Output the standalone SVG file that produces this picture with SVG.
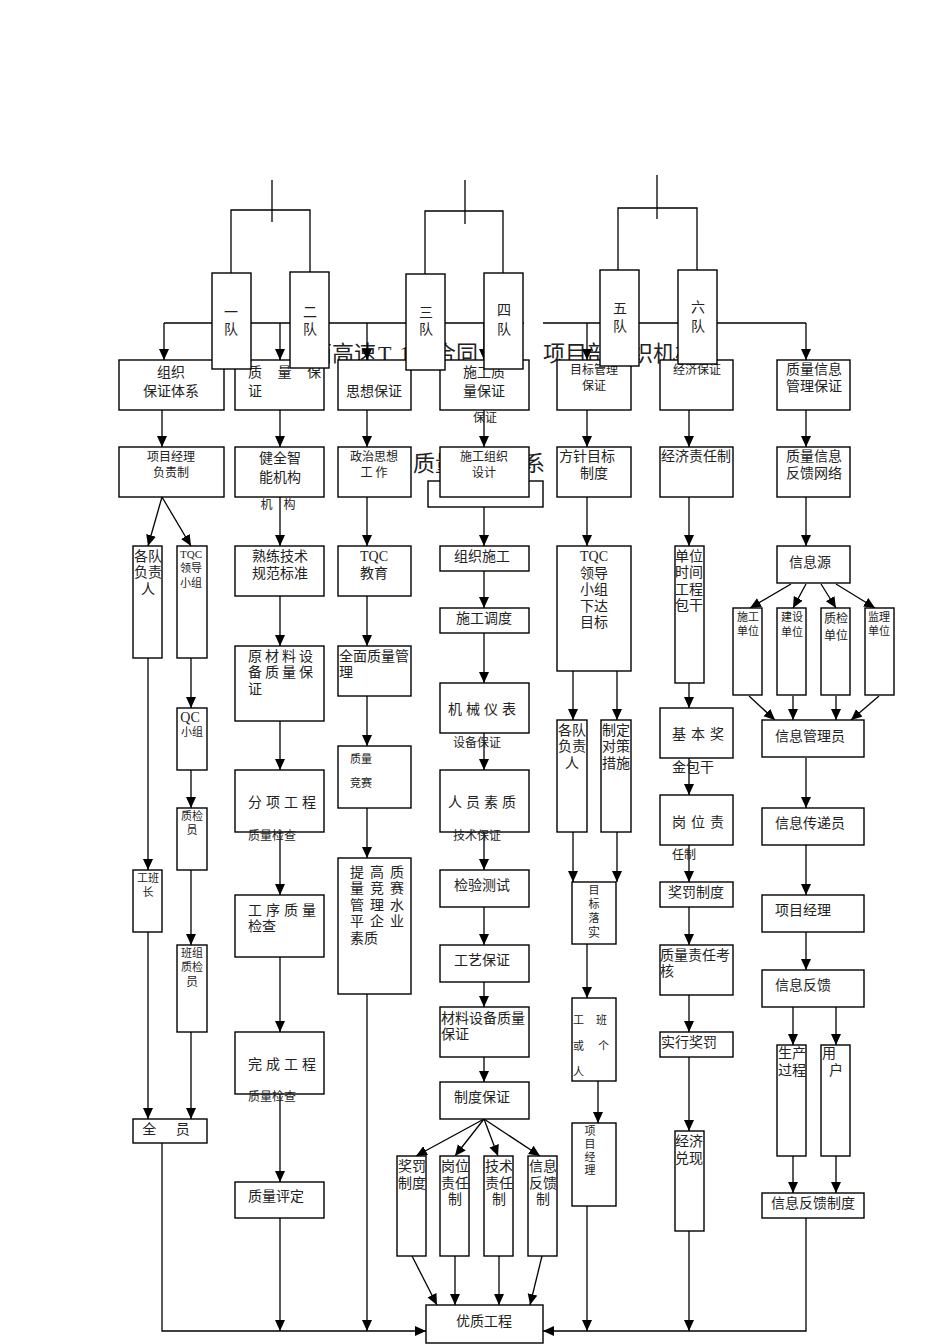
<svg xmlns="http://www.w3.org/2000/svg" width="950" height="1344" viewBox="0 0 950 1344">
<defs>
<marker id="ar" markerUnits="userSpaceOnUse" markerWidth="12" markerHeight="12" refX="11" refY="5" orient="auto"><path d="M0,0 L11,5 L0,10 z" fill="#000"/></marker>
<style>
rect{fill:#fff;stroke:#000;stroke-width:1.4}
line,polyline{stroke:#000;stroke-width:1.3;fill:none}
.a{marker-end:url(#ar)}
text{font-family:"Liberation Serif","Noto Sans CJK SC",serif;fill:#222;font-size:14px}
.c{text-anchor:middle}
.s{font-size:12px}
.xs{font-size:11px}
.big{font-size:22px}
</style>
</defs>
<rect width="950" height="1344" style="stroke:none"/>
<g id="title">
<text class="big" x="310" y="361">西高速</text><text class="big" x="378" y="361" letter-spacing="8">T1</text><text class="big" x="423" y="361">2合同</text><text class="big" x="543" y="361">项目部组织机构</text>
<text class="big" x="413" y="471">质量保证体系</text>
</g>
<g id="connectors">
<line x1="272" y1="180" x2="272" y2="222"/><polyline points="231,273 231,210 310,210 310,272"/>
<line x1="465" y1="180" x2="465" y2="224"/><polyline points="425,274 425,211 503,211 503,273"/>
<line x1="657" y1="175" x2="657" y2="219"/><polyline points="618,270 618,208 697,208 697,270"/>
<line x1="164" y1="323" x2="524" y2="323"/><line x1="543" y1="323" x2="806" y2="323"/>
<line class="a" x1="164" y1="323" x2="164" y2="360"/><line class="a" x1="280" y1="323" x2="280" y2="360"/><line class="a" x1="367" y1="323" x2="367" y2="360"/><line class="a" x1="484" y1="323" x2="484" y2="360"/><line class="a" x1="587" y1="323" x2="587" y2="360"/><line class="a" x1="697" y1="323" x2="697" y2="360"/><line class="a" x1="806" y1="323" x2="806" y2="360"/>
<line class="a" x1="162" y1="410" x2="162" y2="447"/><line class="a" x1="280" y1="410" x2="280" y2="447"/><line class="a" x1="367" y1="410" x2="367" y2="447"/><line class="a" x1="484" y1="410" x2="484" y2="447"/><line class="a" x1="587" y1="410" x2="587" y2="447"/><line class="a" x1="689" y1="410" x2="689" y2="447"/><line class="a" x1="806" y1="410" x2="806" y2="447"/>
<line class="a" x1="162" y1="497" x2="148" y2="546"/><line class="a" x1="162" y1="497" x2="191" y2="546"/>
<line class="a" x1="148" y1="658" x2="148" y2="870"/><line class="a" x1="191" y1="658" x2="191" y2="708"/><line class="a" x1="191" y1="770" x2="191" y2="808"/><line class="a" x1="191" y1="870" x2="191" y2="945"/>
<line class="a" x1="148" y1="932" x2="148" y2="1119"/><line class="a" x1="191" y1="1032" x2="191" y2="1119"/>
<polyline class="a" points="162,1143 162,1331 426,1331"/>
<line class="a" x1="280" y1="497" x2="280" y2="546"/><line class="a" x1="280" y1="596" x2="280" y2="646"/><line class="a" x1="280" y1="721" x2="280" y2="770"/><line class="a" x1="280" y1="832" x2="280" y2="895"/><line class="a" x1="280" y1="957" x2="280" y2="1032"/><line class="a" x1="280" y1="1094" x2="280" y2="1182"/><line class="a" x1="280" y1="1218" x2="280" y2="1331"/>
<line class="a" x1="367" y1="497" x2="367" y2="546"/><line class="a" x1="367" y1="596" x2="367" y2="646"/><line class="a" x1="367" y1="696" x2="367" y2="746"/><line class="a" x1="367" y1="808" x2="367" y2="858"/><line class="a" x1="367" y1="994" x2="367" y2="1331"/>
<line class="a" x1="484" y1="497" x2="484" y2="546"/><line class="a" x1="484" y1="571" x2="484" y2="608"/><line class="a" x1="484" y1="633" x2="484" y2="683"/><line class="a" x1="484" y1="733" x2="484" y2="770"/><line class="a" x1="484" y1="832" x2="484" y2="870"/><line class="a" x1="484" y1="907" x2="484" y2="945"/><line class="a" x1="484" y1="982" x2="484" y2="1007"/><line class="a" x1="484" y1="1057" x2="484" y2="1082"/>
<line class="a" x1="484" y1="1119" x2="416" y2="1156"/><line class="a" x1="484" y1="1119" x2="455" y2="1156"/><line class="a" x1="484" y1="1119" x2="498" y2="1156"/><line class="a" x1="484" y1="1119" x2="540" y2="1156"/>
<line class="a" x1="412" y1="1256" x2="437" y2="1305"/><line class="a" x1="455" y1="1256" x2="455" y2="1305"/><line class="a" x1="499" y1="1256" x2="499" y2="1305"/><line class="a" x1="542" y1="1256" x2="530" y2="1305"/>
<line class="a" x1="587" y1="497" x2="587" y2="546"/><line class="a" x1="573" y1="671" x2="573" y2="720"/><line class="a" x1="617" y1="671" x2="617" y2="720"/>
<line class="a" x1="573" y1="832" x2="573" y2="882"/><line class="a" x1="617" y1="832" x2="617" y2="882"/>
<line class="a" x1="587" y1="944" x2="587" y2="998"/><line class="a" x1="598" y1="1081" x2="598" y2="1123"/><line class="a" x1="587" y1="1206" x2="587" y2="1331"/>
<line class="a" x1="689" y1="497" x2="689" y2="546"/><line class="a" x1="689" y1="683" x2="689" y2="708"/><line class="a" x1="689" y1="758" x2="689" y2="795"/><line class="a" x1="689" y1="845" x2="689" y2="882"/><line class="a" x1="689" y1="907" x2="689" y2="945"/><line class="a" x1="689" y1="995" x2="689" y2="1032"/><line class="a" x1="689" y1="1057" x2="689" y2="1131"/><line class="a" x1="689" y1="1231" x2="689" y2="1331"/>
<line class="a" x1="806" y1="497" x2="806" y2="546"/>
<line class="a" x1="791" y1="584" x2="750" y2="608"/><line class="a" x1="806" y1="584" x2="793" y2="608"/><line class="a" x1="821" y1="584" x2="836" y2="608"/><line class="a" x1="836" y1="584" x2="875" y2="608"/>
<line class="a" x1="749" y1="696" x2="775" y2="720"/><line class="a" x1="793" y1="696" x2="793" y2="720"/><line class="a" x1="836" y1="696" x2="836" y2="720"/><line class="a" x1="879" y1="696" x2="851" y2="720"/>
<line class="a" x1="806" y1="758" x2="806" y2="808"/><line class="a" x1="806" y1="845" x2="806" y2="895"/><line class="a" x1="806" y1="932" x2="806" y2="970"/>
<line class="a" x1="793" y1="1007" x2="793" y2="1045"/><line class="a" x1="836" y1="1007" x2="836" y2="1045"/>
<line class="a" x1="793" y1="1156" x2="793" y2="1193"/><line class="a" x1="836" y1="1156" x2="836" y2="1193"/>
<polyline class="a" points="806,1218 806,1331 543,1331"/>
</g>
<g id="n-zz"><rect x="119" y="360" width="105" height="50"/><text class="c" x="171" y="377">组织</text><text class="c" x="171" y="396">保证体系</text></g>
<g id="n-zl"><rect x="235" y="360" width="89" height="50"/><text x="248" y="377" letter-spacing="6">质 量 保</text><text x="248" y="396">证</text></g>
<g id="n-sx"><rect x="338" y="360" width="73" height="50"/><text class="c" x="374" y="396">思想保证</text></g>
<g id="n-sg"><rect x="440" y="360" width="89" height="50"/><text class="c" x="484" y="377">施工质</text><text class="c" x="484" y="396">量保证</text></g>
<text class="c s" x="485" y="422">保证</text>
<g id="n-mb"><rect x="557" y="360" width="74" height="50"/><text class="c s" x="594" y="374">目标管理</text><text class="c s" x="594" y="390">保证</text></g>
<g id="n-jj"><rect x="660" y="360" width="73" height="50"/><text class="c s" x="697" y="374">经济保证</text></g>
<g id="n-xx"><rect x="777" y="360" width="73" height="50"/><text class="c" x="814" y="374">质量信息</text><text class="c" x="814" y="391">管理保证</text></g>
<g id="t1"><rect x="212" y="273" width="39" height="96"/><text class="c" x="231" y="317">一</text><text class="c" x="231" y="334">队</text></g>
<g id="t2"><rect x="290" y="272" width="39" height="96"/><text class="c" x="310" y="317">二</text><text class="c" x="310" y="334">队</text></g>
<g id="t3"><rect x="406" y="274" width="39" height="96"/><text class="c" x="426" y="317">三</text><text class="c" x="426" y="334">队</text></g>
<g id="t4"><rect x="484" y="273" width="39" height="96"/><text class="c" x="504" y="315">四</text><text class="c" x="504" y="334">队</text></g>
<g id="t5"><rect x="600" y="270" width="39" height="96"/><text class="c" x="620" y="313">五</text><text class="c" x="620" y="331">队</text></g>
<g id="t6"><rect x="678" y="270" width="39" height="94"/><text class="c" x="698" y="312">六</text><text class="c" x="698" y="331">队</text></g>
<g id="n-xmjl"><rect x="119" y="447" width="105" height="50"/><text class="c s" x="171" y="461">项目经理</text><text class="c s" x="171" y="477">负责制</text></g>
<g id="n-jq"><rect x="235" y="447" width="89" height="50"/><text class="c" x="280" y="463">健全智</text><text class="c" x="280" y="482">能机构</text></g>
<text class="c s" x="280" y="509" letter-spacing="4">机 构</text>
<g id="n-zz2"><rect x="338" y="447" width="73" height="50"/><text class="c s" x="374" y="461">政治思想</text><text class="c s" x="374" y="477">工 作</text></g>
<rect x="428" y="481" width="115" height="26"/>
<g id="n-sgzz"><rect x="440" y="447" width="89" height="50"/><text class="c s" x="484" y="461">施工组织</text><text class="c s" x="484" y="477">设计</text></g>
<g id="n-fz"><rect x="557" y="447" width="74" height="50"/><text class="c" x="587" y="461">方针目标</text><text class="c" x="594" y="478">制度</text></g>
<g id="n-jjzr"><rect x="660" y="447" width="73" height="50"/><text class="c" x="696" y="461">经济责任制</text></g>
<g id="n-fk"><rect x="777" y="447" width="73" height="50"/><text class="c" x="814" y="461">质量信息</text><text class="c" x="814" y="478">反馈网络</text></g>
<g id="c1a"><rect x="133" y="546" width="29" height="112"/><text class="c" x="148" y="561">各队</text><text class="c" x="148" y="577">负责</text><text class="c" x="148" y="594">人</text></g>
<g id="c1b"><rect x="177" y="546" width="30" height="112"/><text class="c xs" x="191" y="558">TQC</text><text class="c xs" x="191" y="572">领导</text><text class="c xs" x="191" y="587">小组</text></g>
<g id="c1c"><rect x="177" y="708" width="30" height="62"/><text class="c" x="190" y="722">QC</text><text class="c xs" x="192" y="736">小组</text></g>
<g id="c1d"><rect x="177" y="808" width="30" height="62"/><text class="c xs" x="192" y="820">质检</text><text class="c xs" x="192" y="834">员</text></g>
<g id="c1e"><rect x="133" y="870" width="29" height="62"/><text class="c xs" x="148" y="882">工班</text><text class="c xs" x="148" y="896">长</text></g>
<g id="c1f"><rect x="177" y="945" width="30" height="87"/><text class="c xs" x="192" y="957">班组</text><text class="c xs" x="192" y="971">质检</text><text class="c s" x="192" y="986">员</text></g>
<g id="c1g"><rect x="133" y="1119" width="74" height="24"/><text class="c" x="170" y="1134" letter-spacing="8">全 员</text></g>
<g id="c2a"><rect x="235" y="546" width="89" height="50"/><text class="c" x="280" y="561">熟练技术</text><text class="c" x="280" y="578">规范标准</text></g>
<g id="c2b"><rect x="235" y="646" width="89" height="75"/><text x="248" y="661" letter-spacing="3">原材料设</text><text x="248" y="677" letter-spacing="3">备质量保</text><text x="248" y="694">证</text></g>
<g id="c2c"><rect x="235" y="770" width="89" height="62"/><text x="248" y="807" letter-spacing="4">分项工程</text></g>
<text class="s" x="248" y="840">质量检查</text>
<g id="c2d"><rect x="235" y="895" width="89" height="62"/><text x="248" y="915" letter-spacing="4">工序质量</text><text x="248" y="931">检查</text></g>
<g id="c2e"><rect x="235" y="1032" width="89" height="62"/><text x="248" y="1069" letter-spacing="4">完成工程</text></g>
<text class="s" x="248" y="1101">质量检查</text>
<g id="c2f"><rect x="235" y="1182" width="89" height="36"/><text x="248" y="1201">质量评定</text></g>
<g id="c3a"><rect x="338" y="546" width="73" height="50"/><text class="c" x="374" y="561">TQC</text><text class="c" x="374" y="578">教育</text></g>
<g id="c3b"><rect x="338" y="646" width="73" height="50"/><text x="339" y="661">全面质量管</text><text x="339" y="677">理</text></g>
<g id="c3c"><rect x="338" y="746" width="73" height="62"/><text class="xs" x="350" y="763">质量</text><text class="xs" x="350" y="787">竞赛</text></g>
<g id="c3d"><rect x="338" y="858" width="73" height="136"/><text x="350" y="877" letter-spacing="6">提高质</text><text x="350" y="893" letter-spacing="6">量竞赛</text><text x="350" y="910" letter-spacing="6">管理水</text><text x="350" y="926" letter-spacing="6">平企业</text><text x="350" y="943">素质</text></g>
<g id="c4a"><rect x="440" y="546" width="89" height="25"/><text class="c" x="482" y="561">组织施工</text></g>
<g id="c4b"><rect x="440" y="608" width="89" height="25"/><text class="c" x="484" y="623">施工调度</text></g>
<g id="c4c"><rect x="440" y="683" width="89" height="50"/><text class="c" x="484" y="714" letter-spacing="4">机械仪表</text></g>
<text class="s" x="453" y="747">设备保证</text>
<g id="c4d"><rect x="440" y="770" width="89" height="62"/><text class="c" x="484" y="807" letter-spacing="4">人员素质</text></g>
<text class="s" x="453" y="840">技术保证</text>
<g id="c4e"><rect x="440" y="870" width="89" height="37"/><text class="c" x="482" y="890">检验测试</text></g>
<g id="c4f"><rect x="440" y="945" width="89" height="37"/><text class="c" x="482" y="965">工艺保证</text></g>
<g id="c4g"><rect x="440" y="1007" width="89" height="50"/><text x="441" y="1023">材料设备质量</text><text x="441" y="1039">保证</text></g>
<g id="c4h"><rect x="440" y="1082" width="89" height="37"/><text class="c" x="482" y="1102">制度保证</text></g>
<g id="c4i"><rect x="397" y="1156" width="29" height="100"/><text class="c" x="412" y="1171">奖罚</text><text class="c" x="412" y="1188">制度</text></g>
<g id="c4j"><rect x="440" y="1156" width="29" height="100"/><text class="c" x="455" y="1171">岗位</text><text class="c" x="455" y="1188">责任</text><text class="c" x="455" y="1204">制</text></g>
<g id="c4k"><rect x="484" y="1156" width="29" height="100"/><text class="c" x="499" y="1171">技术</text><text class="c" x="499" y="1188">责任</text><text class="c" x="499" y="1204">制</text></g>
<g id="c4l"><rect x="528" y="1156" width="29" height="100"/><text class="c" x="543" y="1171">信息</text><text class="c" x="543" y="1188">反馈</text><text class="c" x="543" y="1204">制</text></g>
<g id="yz"><rect x="426" y="1305" width="117" height="38"/><text class="c" x="484" y="1326">优质工程</text></g>
<g id="c5a"><rect x="557" y="546" width="74" height="125"/><text class="c" x="594" y="561">TQC</text><text class="c" x="594" y="578">领导</text><text class="c" x="594" y="594">小组</text><text class="c" x="594" y="611">下达</text><text class="c" x="594" y="627">目标</text></g>
<g id="c5b"><rect x="557" y="720" width="30" height="112"/><text class="c" x="572" y="735">各队</text><text class="c" x="572" y="751">负责</text><text class="c" x="572" y="768">人</text></g>
<g id="c5c"><rect x="601" y="720" width="30" height="112"/><text class="c" x="616" y="735">制定</text><text class="c" x="616" y="751">对策</text><text class="c" x="616" y="768">措施</text></g>
<g id="c5d"><rect x="572" y="882" width="44" height="62"/><text class="c xs" x="594" y="894">目</text><text class="c xs" x="594" y="908">标</text><text class="c xs" x="594" y="922">落</text><text class="c s" x="594" y="937">实</text></g>
<g id="c5e"><rect x="572" y="998" width="44" height="83"/><text class="xs" x="573" y="1024">工</text><text class="xs" x="596" y="1024">班</text><text class="xs" x="573" y="1050">或</text><text class="xs" x="598" y="1050">个</text><text class="xs" x="573" y="1076">人</text></g>
<g id="c5f"><rect x="572" y="1123" width="44" height="83"/><text class="c xs" x="590" y="1135">项</text><text class="c xs" x="590" y="1148">目</text><text class="c xs" x="590" y="1161">经</text><text class="c xs" x="590" y="1174">理</text></g>
<g id="c6a"><rect x="675" y="546" width="29" height="137"/><text class="c" x="689" y="561">单位</text><text class="c" x="689" y="577">时间</text><text class="c" x="689" y="594">工程</text><text class="c" x="689" y="610">包干</text></g>
<g id="c6b"><rect x="660" y="708" width="73" height="50"/><text x="672" y="739" letter-spacing="5">基本奖</text></g>
<text x="672" y="772">金包干</text>
<g id="c6c"><rect x="660" y="795" width="73" height="50"/><text x="672" y="827" letter-spacing="5">岗位责</text></g>
<text class="s" x="672" y="859">任制</text>
<g id="c6d"><rect x="660" y="882" width="73" height="25"/><text class="c" x="696" y="897">奖罚制度</text></g>
<g id="c6e"><rect x="660" y="945" width="73" height="50"/><text x="660" y="960">质量责任考</text><text x="660" y="976">核</text></g>
<g id="c6f"><rect x="660" y="1032" width="73" height="25"/><text x="661" y="1047">实行奖罚</text></g>
<g id="c6g"><rect x="675" y="1131" width="29" height="100"/><text class="c" x="689" y="1146">经济</text><text class="c" x="689" y="1163">兑现</text></g>
<g id="c7a"><rect x="777" y="546" width="73" height="37"/><text class="c" x="810" y="567">信息源</text></g>
<g id="c7b"><rect x="733" y="608" width="29" height="87"/><text class="c xs" x="748" y="621">施工</text><text class="c xs" x="748" y="635">单位</text></g>
<g id="c7c"><rect x="777" y="608" width="29" height="87"/><text class="c xs" x="792" y="621">建设</text><text class="c xs" x="792" y="636">单位</text></g>
<g id="c7d"><rect x="821" y="608" width="29" height="87"/><text class="c s" x="836" y="623">质检</text><text class="c s" x="836" y="640">单位</text></g>
<g id="c7e"><rect x="865" y="608" width="29" height="87"/><text class="c xs" x="879" y="621">监理</text><text class="c xs" x="879" y="635">单位</text></g>
<g id="c7f"><rect x="762" y="720" width="102" height="37"/><text x="775" y="741">信息管理员</text></g>
<g id="c7g"><rect x="762" y="808" width="102" height="37"/><text x="775" y="828">信息传递员</text></g>
<g id="c7h"><rect x="762" y="895" width="102" height="37"/><text x="775" y="915">项目经理</text></g>
<g id="c7i"><rect x="762" y="970" width="102" height="37"/><text x="775" y="990">信息反馈</text></g>
<g id="c7j"><rect x="777" y="1045" width="29" height="111"/><text class="c" x="792" y="1058">生产</text><text class="c" x="792" y="1075">过程</text></g>
<g id="c7k"><rect x="821" y="1045" width="29" height="111"/><text x="822" y="1058">用</text><text x="829" y="1075">户</text></g>
<g id="c7l"><rect x="762" y="1193" width="102" height="25"/><text x="771" y="1208">信息反馈制度</text></g>
</svg>
